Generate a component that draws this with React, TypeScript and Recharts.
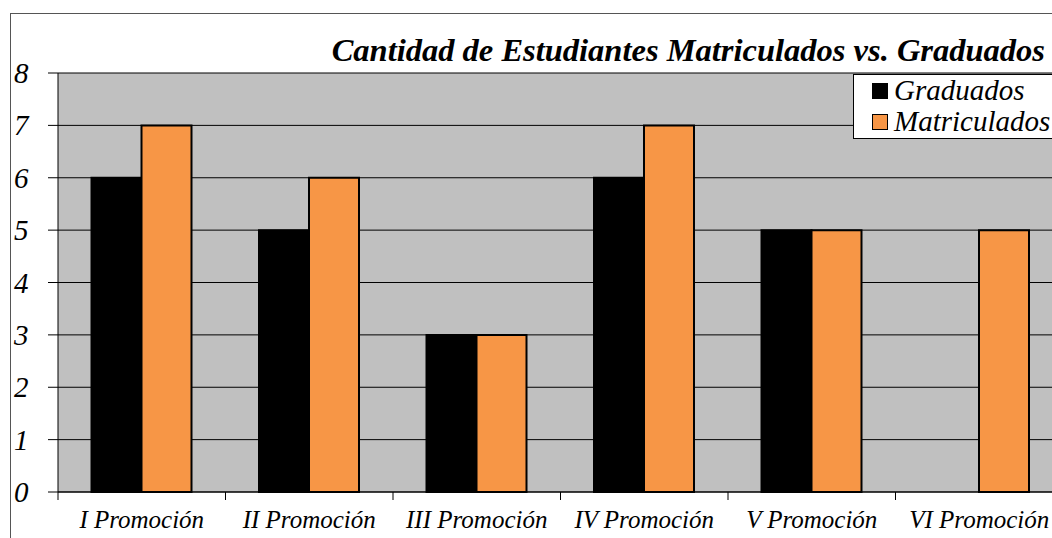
import React from 'react';
import { BarChart, Bar, XAxis, YAxis, CartesianGrid } from 'recharts';

const promociones = ['I Promoción', 'II Promoción', 'III Promoción', 'IV Promoción', 'V Promoción', 'VI Promoción'];
const graduados = [6, 5, 3, 6, 5, 0];
const matriculados = [7, 6, 3, 7, 5, 5];
const yTicks = [0, 1, 2, 3, 4, 5, 6, 7, 8];

const data = promociones.map((name, i) => ({
  name,
  graduados: graduados[i],
  matriculados: matriculados[i],
}));

const ORANGE = '#F79646';
const CHART_W = 1070;
const PLOT_LEFT = 58;
const PLOT_RIGHT = 7;
const bandW = (CHART_W - PLOT_LEFT - PLOT_RIGHT) / promociones.length;

const YTick = (props: any) => {
  const { y, payload } = props;
  return (
    <text x={14} y={y} dy={10} fontFamily="Liberation Serif" fontStyle="italic" fontSize={29} fill="#000">
      {payload.value}
    </text>
  );
};

// category labels centred, tick marks at the band edges like Excel
const XTick = (props: any) => {
  const { x, y, payload, index } = props;
  const left = x - bandW / 2;
  return (
    <g>
      <line x1={left} x2={left} y1={y - 8} y2={y} stroke="#000" />
      {index === promociones.length - 1 && (
        <line x1={x + bandW / 2} x2={x + bandW / 2} y1={y - 8} y2={y} stroke="#000" />
      )}
      <text x={x} y={y} dy={28} textAnchor="middle" fontFamily="Liberation Serif" fontStyle="italic" fontSize={25} fill="#000">
        {payload.value}
      </text>
    </g>
  );
};

export default function App() {
  return (
    <div style={{ position: 'fixed', left: 0, top: 0, width: 1052, height: 538, overflow: 'hidden', background: '#fff', fontFamily: 'Liberation Serif' }}>
      <div style={{ position: 'absolute', left: 10, top: 13, width: 1100, height: 600, borderLeft: '1.5px solid #555', borderTop: '1.5px solid #555' }} />
      <BarChart
        width={CHART_W}
        height={538}
        data={data}
        margin={{ top: 73, right: PLOT_RIGHT, bottom: 0, left: 10 }}
        barCategoryGap="20%"
        barGap={0}
        style={{ position: 'absolute', left: 0, top: 0 }}
      >
        <CartesianGrid stroke="#000" strokeWidth={1} vertical={false} fill="#C0C0C0" fillOpacity={1} horizontalValues={yTicks} />
        <XAxis
          dataKey="name"
          axisLine={{ stroke: '#000' }}
          tickLine={false}
          height={46}
          interval={0}
          tick={<XTick />}
        />
        <YAxis
          domain={[0, 8]}
          ticks={yTicks}
          width={48}
          axisLine={{ stroke: '#000' }}
          tickLine={{ stroke: '#000' }}
          tickSize={10}
          tick={<YTick />}
          interval={0}
        />
        <Bar dataKey="graduados" fill="#000" stroke="#000" strokeWidth={2} isAnimationActive={false} />
        <Bar dataKey="matriculados" fill={ORANGE} stroke="#000" strokeWidth={2} isAnimationActive={false} />
      </BarChart>
      <div
        style={{
          position: 'absolute',
          right: 7,
          top: 30,
          fontFamily: 'Liberation Serif',
          fontWeight: 'bold',
          fontStyle: 'italic',
          fontSize: 32.5,
          lineHeight: '40px',
          whiteSpace: 'nowrap',
        }}
      >
        Cantidad de Estudiantes Matriculados vs. Graduados
      </div>
      <div
        style={{
          position: 'absolute',
          left: 853,
          top: 74,
          width: 230,
          height: 63,
          background: '#fff',
          border: '1px solid #000',
          fontFamily: 'Liberation Serif',
          fontStyle: 'italic',
          fontSize: 29,
        }}
      >
        {[
          { label: 'Graduados', color: '#000' },
          { label: 'Matriculados', color: ORANGE },
        ].map((item) => (
          <div key={item.label} style={{ display: 'flex', alignItems: 'center', height: 31, marginLeft: 18 }}>
            <span style={{ display: 'inline-block', width: 14, height: 14, background: item.color, border: '1px solid #000', marginRight: 6 }} />
            <span>{item.label}</span>
          </div>
        ))}
      </div>
    </div>
  );
}
